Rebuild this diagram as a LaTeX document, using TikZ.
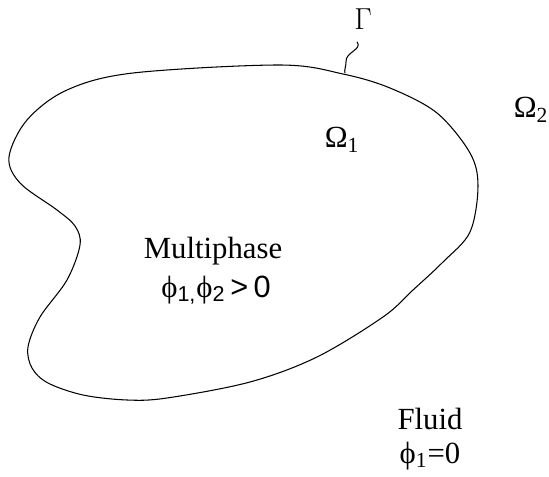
\documentclass[tikz,border=0pt]{standalone}
\usepackage{fontspec}
\setmainfont{Liberation Serif}
\newfontfamily\sansf{Liberation Sans}
\tikzset{
  lbl/.style={inner sep=0pt,font=\fontsize{17.5}{21}\selectfont},
  ifc/.style={black,line width=0.6pt}
}
\newcommand{\phs}{\symbol{"03D5}}
\begin{document}
\begin{tikzpicture}[x=0.02cm,y=-0.02cm]
		\useasboundingbox (0,0) rectangle (549,477);
		
		\draw[ifc] plot[smooth cycle,tension=0.55] coordinates {
			(280,65) (343,74) (390,88) (437,113) (470,153) (478,186) (470,232)
			(443,262) (413,290) (383,317) (317,357) (250,382) (167,398) (127,400)
			(83,395) (48,383) (32,368) (28,347) (40,317) (67,280) (80,245)
			(75,226) (57,210) (20,183) (9,157) (27,120) (67,90) (133,73)};%interface
		
		\node[lbl] (gam) at (363,19) {$\Gamma$};
		\coordinate (gamfoot) at (345,73);
		\draw[ifc] (gam.south)++(-6,12) .. controls +(6,8) and (345,52) .. (346,62)
			.. controls (346,67) and (344,70) .. (gamfoot);
		
		\node[lbl] (om1) at (342,140) {Ω\textsubscript{1}};
		\node[lbl] (om2) at (531,110) {Ω\textsubscript{2}};
		
		\node[lbl] (multi) at (213,251) {Multiphase};
		\node[lbl] (multiphi) at (216,290) {\phs{\sansf\textsubscript{1,}}\phs{\sansf\textsubscript{2}\,>\,0}};
		
		\node[lbl] (fluid) at (430,419) {Fluid};
		\node[lbl] (fluidphi) at (430,456) {\phs\textsubscript{1}=0};
		
	\end{tikzpicture}
\end{document}
